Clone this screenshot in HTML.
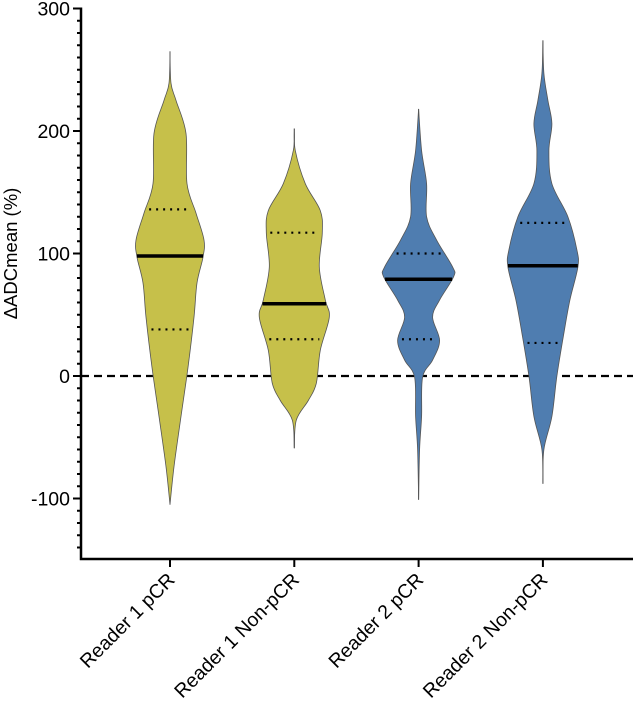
<!DOCTYPE html>
<html><head><meta charset="utf-8"><style>
body{margin:0;background:#fff}
svg text{font-family:"Liberation Sans",Arial,sans-serif;fill:#000}
</style></head><body>
<svg id="chart" width="633" height="711" viewBox="0 0 633 711" xmlns="http://www.w3.org/2000/svg"></svg>
<script>
const categories=["Reader 1 pCR","Reader 1 Non-pCR","Reader 2 pCR","Reader 2 Non-pCR"];
const colors=["#c6c04a","#c6c04a","#4f7db0","#4f7db0"];
const medians=[98,59,79,90];
const q1s=[38,30,30,27];
const q3s=[136,117,100,125];
const mins=[-105,-59,-101,-88];
const maxs=[265,202,218,274];
// density profile: value, half-width (px)
const prof1=[[265,0],[239,1],[225,6],[198,16],[157,17],[133,26],[111,34],[97,33],[76,27],[48,24],[7,18],[-33,11],[-74,4],[-105,0]];
const prof2=[[202,0],[184,1],[157,11],[135,26],[117,28],[89,25],[62,31],[48,35],[21,26],[-6,22],[-20,14],[-36,2],[-59,0]];
const prof3=[[218,0],[184,3],[157,8],[130,8],[111,18],[89,34],[81,35],[62,21],[48,14],[29,21],[13,14],[-1,4],[-33,3],[-60,1],[-101,0]];
const prof4=[[274,0],[247,1],[225,5],[206,9],[184,6],[157,9],[130,25],[103,34],[89,35],[62,27],[35,21],[0,14],[-33,9],[-60,1],[-88,0]];
const profiles=[prof1,prof2,prof3,prof4];
const yTicks=[-100,0,100,200,300];

const svg=document.getElementById('chart');
const NS="http://www.w3.org/2000/svg";
const X0=81,XR=633,YB=559;
const y=v=>376-1.225*v;
const xc=i=>170+i*124.3;
function mk(t,a,p){const e=document.createElementNS(NS,t);for(const k in a)e.setAttribute(k,a[k]);(p||svg).appendChild(e);return e;}
function hwAt(p,v){for(let i=0;i<p.length-1;i++){const a=p[i],b=p[i+1];if(v<=a[0]&&v>=b[0]){const t=(a[0]-v)/(a[0]-b[0]);return a[1]+(b[1]-a[1])*t;}}return 0;}
function smooth(pts){let d="M"+pts[0][0]+","+pts[0][1];for(let i=0;i<pts.length-1;i++){const p0=pts[i-1]||pts[i],p1=pts[i],p2=pts[i+1],p3=pts[i+2]||p2;
const c1=[p1[0]+(p2[0]-p0[0])/6,p1[1]+(p2[1]-p0[1])/6],c2=[p2[0]-(p3[0]-p1[0])/6,p2[1]-(p3[1]-p1[1])/6];
d+=" C"+c1[0]+","+c1[1]+" "+c2[0]+","+c2[1]+" "+p2[0]+","+p2[1];}return d;}

const zl=mk('line',{x1:X0,x2:XR,y1:y(0),y2:y(0),stroke:'#000','stroke-width':2.2,'stroke-dasharray':'8,5'});



categories.forEach((c,i)=>{
  const g=mk('g',{});
  
  
  const cx=xc(i),p=profiles[i];
  mk('line',{x1:cx,x2:cx,y1:y(maxs[i]),y2:y(mins[i]),stroke:'#555','stroke-width':1},g);
  const right=p.map(q=>[cx+q[1],y(q[0])]);
  const left=p.slice().reverse().map(q=>[cx-q[1],y(q[0])]);
  const d=smooth(right)+" L"+left[0][0]+","+left[0][1]+smooth(left).replace(/^M[^ ]+/,"")+"Z";
  mk('path',{d:d,fill:colors[i],stroke:'#555','stroke-width':0.8},g);
  const w=hwAt(p,medians[i]);
  const m=mk('line',{x1:cx-w,x2:cx+w,y1:y(medians[i]),y2:y(medians[i]),stroke:'#000','stroke-width':3.5},g);
  
  
  [q1s[i],q3s[i]].forEach(q=>{const wq=hwAt(p,q)-4;
    const l=mk('line',{x1:cx-wq,x2:cx+wq,y1:y(q),y2:y(q),stroke:'#000','stroke-width':2.2,'stroke-dasharray':'2,5'},g);
    
    });
  mk('line',{x1:cx,x2:cx,y1:YB,y2:YB+8,stroke:'#000','stroke-width':2});
  const t=mk('text',{x:cx+6,y:YB+22,'font-size':19.5,'text-anchor':'end',transform:`rotate(-45 ${cx+6} ${YB+22})`});
  t.textContent=c;
  
  
});

const ax=mk('path',{d:`M${X0},${y(300)-1} V${YB} H${XR}`,fill:'none',stroke:'#000','stroke-width':2.5});


for(let v=-140;v<=300;v+=10){const major=v%100===0;
  mk('line',{x1:X0-(major?8:4),x2:X0,y1:y(v),y2:y(v),stroke:'#000','stroke-width':2});}
yTicks.forEach(v=>{const t=mk('text',{x:X0-11,y:y(v)+7,'font-size':19.5,'text-anchor':'end'});t.textContent=v;
  
  });
const yt=mk('text',{x:17,y:y(100),'font-size':18.5,'text-anchor':'middle',transform:`rotate(-90 17 ${y(100)})`});
yt.textContent="ΔADCmean (%)";


</script>
</body></html>
